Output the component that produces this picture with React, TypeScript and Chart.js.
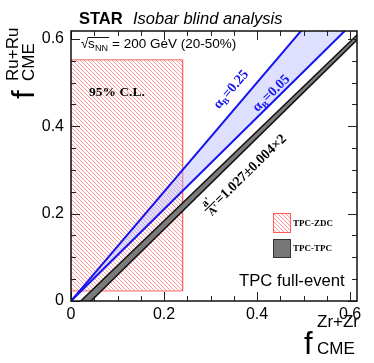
import React, { useEffect, useRef } from "react";
import { Chart, registerables } from "chart.js";

Chart.register(...registerables);

// ---- axis ranges & ticks ----
const xRange = [0, 0.615];
const yRange = [0, 0.618];
const xTickLabels = [0, 0.2, 0.4, 0.6];
const yTickLabels = [0, 0.2, 0.4, 0.6];
const minorTicks = [0, 0.05, 0.1, 0.15, 0.2, 0.25, 0.3, 0.35, 0.4, 0.45, 0.5, 0.55, 0.6];

// ---- alpha_B lines (f_Ru = (1+alpha) f_Zr), end points ----
const alphaB025Line = [
  { x: 0, y: 0 },
  { x: 0.62, y: 0.775 },
];
const alphaB005Line = [
  { x: 0, y: 0 },
  { x: 0.62, y: 0.651 },
];

// ---- a'/A' band edges (TPC-TPC) ----
const ratioUpperEdge = [
  { x: 0, y: -0.0215 },
  { x: 0.62, y: 0.614 },
];
const ratioLowerEdge = [
  { x: 0, y: -0.045 },
  { x: 0.62, y: 0.603 },
];

// ---- 95% C.L. box (TPC-ZDC) ----
const clBoxX = [0, 0.24];
const clBoxY = [0.023, 0.552];

const SANS = '"Liberation Sans", Arial, sans-serif';
const SERIF = '"Liberation Serif", "Times New Roman", serif';
const HATCH = "rgba(255,85,85,0.6)";

function makeHatch(color: string) {
  const c = document.createElement("canvas");
  c.width = 4;
  c.height = 4;
  const g = c.getContext("2d")!;
  g.fillStyle = "#ffffff";
  g.fillRect(0, 0, 4, 4);
  g.strokeStyle = color;
  g.lineWidth = 1;
  g.beginPath();
  g.moveTo(-1, -1);
  g.lineTo(5, 5);
  g.moveTo(-1, 3);
  g.lineTo(1, 5);
  g.moveTo(3, -1);
  g.lineTo(5, 1);
  g.stroke();
  return g.createPattern(c, "repeat")!;
}

function fmt(v: number) {
  return v === 0 ? "0" : v.toFixed(1);
}

type Piece = { t: string; font: string; dy: number };

function drawPieces(
  ctx: CanvasRenderingContext2D,
  cx: number,
  cy: number,
  angle: number,
  pieces: Piece[],
  color: string
) {
  ctx.save();
  ctx.translate(cx, cy);
  ctx.rotate(angle);
  ctx.fillStyle = color;
  ctx.textBaseline = "alphabetic";
  ctx.textAlign = "left";
  let total = 0;
  const widths: number[] = [];
  for (const p of pieces) {
    ctx.font = p.font;
    const w = ctx.measureText(p.t).width;
    widths.push(w);
    total += w;
  }
  let x = -total / 2;
  pieces.forEach((p, i) => {
    ctx.font = p.font;
    ctx.fillText(p.t, x, p.dy);
    x += widths[i];
  });
  ctx.restore();
}

const annotations = {
  id: "annotations",
  afterDraw(chart: any) {
    const ctx: CanvasRenderingContext2D = chart.ctx;
    const xs = chart.scales.x;
    const ys = chart.scales.y;
    const a = chart.chartArea;
    ctx.save();

    // inner ticks
    ctx.strokeStyle = "#222";
    ctx.lineWidth = 1;
    for (const v of minorTicks) {
      const major = xTickLabels.includes(v);
      const len = major ? 9 : 5;
      const px = Math.round(xs.getPixelForValue(v)) + 0.5;
      ctx.beginPath();
      ctx.moveTo(px, a.bottom);
      ctx.lineTo(px, a.bottom - len);
      ctx.moveTo(px, a.top);
      ctx.lineTo(px, a.top + len);
      ctx.stroke();
      const major2 = yTickLabels.includes(v);
      const len2 = major2 ? 9 : 5;
      const py = Math.round(ys.getPixelForValue(v)) + 0.5;
      ctx.beginPath();
      ctx.moveTo(a.left, py);
      ctx.lineTo(a.left + len2, py);
      ctx.moveTo(a.right, py);
      ctx.lineTo(a.right - len2, py);
      ctx.stroke();
    }

    // frame
    ctx.lineWidth = 1.5;
    ctx.strokeStyle = "#111";
    ctx.strokeRect(a.left, a.top, a.right - a.left, a.bottom - a.top);

    // title
    ctx.fillStyle = "#000";
    ctx.textBaseline = "alphabetic";
    ctx.textAlign = "left";
    ctx.font = `bold 16.5px ${SANS}`;
    ctx.fillText("STAR", 79, 24);
    ctx.font = `italic 16.5px ${SANS}`;
    ctx.fillText("Isobar blind analysis", 133, 24);

    // sqrt(s_NN)
    ctx.font = `13.5px ${SANS}`;
    ctx.fillText("\u221A", 81, 48);
    ctx.fillText("s", 88, 48);
    ctx.font = `9px ${SANS}`;
    ctx.fillText("NN", 95, 51);
    ctx.beginPath();
    ctx.lineWidth = 1;
    ctx.moveTo(88, 37.5);
    ctx.lineTo(109, 37.5);
    ctx.stroke();
    ctx.font = `13.5px ${SANS}`;
    ctx.fillText("= 200 GeV (20-50%)", 112, 48);

    // 95% C.L.
    ctx.font = `bold 13.5px ${SERIF}`;
    ctx.fillText("95% C.L.", 89, 96);

    // TPC full-event
    ctx.font = `16.7px ${SANS}`;
    ctx.fillText("TPC full-event", 239, 286);

    // legend
    const hatch = makeHatch(HATCH);
    ctx.fillStyle = hatch;
    ctx.fillRect(273, 213, 17, 19);
    ctx.strokeStyle = "rgb(255,90,90)";
    ctx.lineWidth = 1;
    ctx.strokeRect(273.5, 213.5, 17, 19);
    ctx.fillStyle = "#777";
    ctx.fillRect(273, 239, 17, 18);
    ctx.strokeStyle = "#333";
    ctx.strokeRect(273.5, 239.5, 17, 18);
    ctx.fillStyle = "#000";
    ctx.font = `bold 9px ${SERIF}`;
    ctx.textBaseline = "middle";
    ctx.fillText("TPC-ZDC", 293, 224);
    ctx.fillText("TPC-TPC", 293, 249);
    ctx.textBaseline = "alphabetic";

    // alpha labels
    const kx = xs.width / (xRange[1] - xRange[0]);
    const ky = ys.height / (yRange[1] - yRange[0]);
    const ang025 = -Math.atan((1.25 * ky) / kx);
    const ang005 = -Math.atan((1.05 * ky) / kx);
    const angR = -Math.atan((1.033 * ky) / kx);
    const blue = "#1414ee";
    drawPieces(
      ctx,
      234,
      92,
      ang025,
      [
        { t: "\u03B1", font: `bold 14px ${SERIF}`, dy: 0 },
        { t: "B", font: `bold 9px ${SERIF}`, dy: 3 },
        { t: "=0.25", font: `bold 14px ${SERIF}`, dy: 0 },
      ],
      blue
    );
    drawPieces(
      ctx,
      274,
      96,
      ang005,
      [
        { t: "\u03B1", font: `bold 14px ${SERIF}`, dy: 0 },
        { t: "B", font: `bold 9px ${SERIF}`, dy: 3 },
        { t: "=0.05", font: `bold 14px ${SERIF}`, dy: 0 },
      ],
      blue
    );

    // ratio label with fraction a'/A'
    ctx.save();
    ctx.translate(242, 172);
    ctx.rotate(angR);
    ctx.fillStyle = "#000";
    ctx.font = `bold 14px ${SERIF}`;
    const main = "=1.027\u00B10.004\u00D72";
    const mw = ctx.measureText(main).width;
    const fw = 14;
    const x0 = -(mw + fw) / 2;
    ctx.font = `bold 11px ${SERIF}`;
    ctx.textAlign = "center";
    ctx.fillText("a'", x0 + fw / 2, 0);
    ctx.fillText("A'", x0 + fw / 2, 11);
    ctx.beginPath();
    ctx.lineWidth = 1;
    ctx.strokeStyle = "#000";
    ctx.moveTo(x0, 2);
    ctx.lineTo(x0 + fw, 2);
    ctx.stroke();
    ctx.textAlign = "left";
    ctx.font = `bold 14px ${SERIF}`;
    ctx.fillText(main, x0 + fw + 1, 8);
    ctx.restore();

    // x-axis title
    ctx.fillStyle = "#000";
    ctx.font = `31px ${SANS}`;
    ctx.fillText("f", 304, 354);
    ctx.font = `17px ${SANS}`;
    ctx.fillText("Zr+Zr", 317, 327);
    ctx.fillText("CME", 317, 354);

    // y-axis title (rotated)
    ctx.save();
    ctx.translate(34, 99);
    ctx.rotate(-Math.PI / 2);
    ctx.font = `31px ${SANS}`;
    ctx.fillText("f", 0, 0);
    ctx.font = `17px ${SANS}`;
    ctx.fillText("Ru+Ru", 18, -16);
    ctx.fillText("CME", 18, 0);
    ctx.restore();

    ctx.restore();
  },
};

export default function App() {
  const ref = useRef<HTMLCanvasElement | null>(null);
  useEffect(() => {
    const canvas = ref.current!;
    const hatch = makeHatch(HATCH);
    const clTop = clBoxX.map((x) => ({ x, y: clBoxY[1] }));
    const clBottom = clBoxX.map((x) => ({ x, y: clBoxY[0] }));
    const clOutline = [
      { x: clBoxX[0], y: clBoxY[0] },
      { x: clBoxX[0], y: clBoxY[1] },
      { x: clBoxX[1], y: clBoxY[1] },
      { x: clBoxX[1], y: clBoxY[0] },
      { x: clBoxX[0], y: clBoxY[0] },
    ];
    const base = { pointRadius: 0, tension: 0, fill: false as any };
    const chart = new Chart(canvas, {
      type: "line",
      data: {
        datasets: [
          { ...base, data: ratioLowerEdge, borderColor: "#111", borderWidth: 1.5 },
          { ...base, data: ratioUpperEdge, borderColor: "#111", borderWidth: 1.5, fill: "-1", backgroundColor: "#7b7b7b" },
          { ...base, data: alphaB005Line, borderColor: "#1414ee", borderWidth: 2 },
          { ...base, data: alphaB025Line, borderColor: "#1414ee", borderWidth: 2, fill: "-1", backgroundColor: "rgba(185,185,255,0.45)" },
          { ...base, data: clOutline, borderColor: "rgb(255,100,100)", borderWidth: 1 },
          { ...base, data: clTop, borderWidth: 0, borderColor: "rgba(0,0,0,0)", fill: "+1", backgroundColor: hatch as any },
          { ...base, data: clBottom, borderWidth: 0, borderColor: "rgba(0,0,0,0)" },
        ] as any,
      },
      options: {
        responsive: false,
        animation: false,
        events: [],
        layout: { padding: { left: 0, right: 17, top: 31, bottom: 0 } },
        plugins: {
          legend: { display: false },
          tooltip: { enabled: false },
          title: { display: false },
        },
        scales: {
          x: {
            type: "linear",
            min: xRange[0],
            max: xRange[1],
            grid: { display: false, drawTicks: false },
            border: { display: false },
            ticks: {
              font: { family: SANS, size: 16 },
              color: "#000",
              padding: 4,
              maxRotation: 0,
              autoSkip: false,
              callback: (v: any) => fmt(Number(v)),
            },
            afterBuildTicks: (s: any) => {
              s.ticks = xTickLabels.map((v) => ({ value: v }));
            },
            afterFit: (s: any) => {
              s.height = 62;
            },
          },
          y: {
            type: "linear",
            min: yRange[0],
            max: yRange[1],
            grid: { display: false, drawTicks: false },
            border: { display: false },
            ticks: {
              font: { family: SANS, size: 16 },
              color: "#000",
              padding: 7,
              autoSkip: false,
              callback: (v: any) => fmt(Number(v)),
            },
            afterBuildTicks: (s: any) => {
              s.ticks = yTickLabels.map((v) => ({ value: v }));
            },
            afterFit: (s: any) => {
              s.width = 71;
            },
          },
        },
      } as any,
      plugins: [annotations],
    });
    return () => chart.destroy();
  }, []);
  return (
    <div style={{ position: "fixed", left: 0, top: 0, width: 374, height: 363, background: "#fff" }}>
      <canvas ref={ref} width={374} height={363} style={{ width: 374, height: 363, display: "block" }} />
    </div>
  );
}
